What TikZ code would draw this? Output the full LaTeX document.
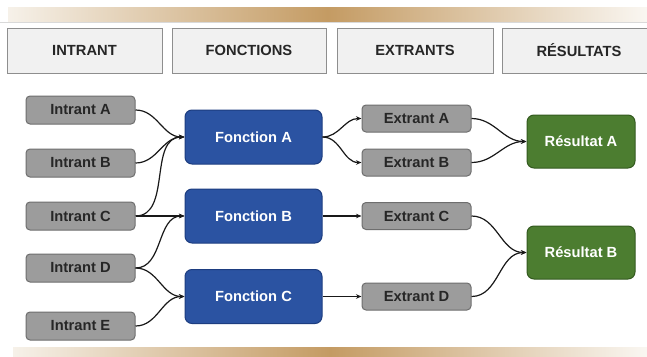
\documentclass[tikz,border=0pt]{standalone}
\usepackage{fontspec}
\setmainfont{Liberation Sans}
\usetikzlibrary{arrows.meta}
\definecolor{tan}{HTML}{C49B63}
\definecolor{tanlight}{HTML}{F6F1E9}
\definecolor{hdrfill}{HTML}{F1F1F1}
\definecolor{hdrdraw}{HTML}{8E8E8E}
\definecolor{grayfill}{HTML}{9C9C9C}
\definecolor{graydraw}{HTML}{6E6E6E}
\definecolor{bluefill}{HTML}{2B53A2}
\definecolor{bluedraw}{HTML}{1D3D80}
\definecolor{greenfill}{HTML}{4C7D30}
\definecolor{greendraw}{HTML}{335A1F}
\tikzset{
  lbl/.style={font=\fontsize{14.7}{16}\selectfont\bfseries},
  hdr/.style={lbl, draw=hdrdraw, fill=hdrfill, line width=1pt, minimum height=45pt, inner sep=0pt, text=black!85},
  graybox/.style={lbl, draw=graydraw, fill=grayfill, line width=1pt, rounded corners=4pt, minimum width=109pt, minimum height=28pt, inner sep=0pt, text=black!85},
  fbox/.style={lbl, draw=bluedraw, fill=bluefill, line width=1pt, rounded corners=7pt, minimum width=137pt, minimum height=54pt, inner sep=0pt, text=white},
  rbox/.style={lbl, draw=greendraw, fill=greenfill, line width=1pt, rounded corners=7pt, minimum width=108pt, minimum height=53pt, inner sep=0pt, text=white},
  conn/.style={line width=1.2pt, black!90, -{Stealth[length=5.5pt,width=4.5pt]}},
}
\begin{document}
\begin{tikzpicture}[x=1pt,y=-1pt]
\useasboundingbox (0,0) rectangle (647,356);
\fill[white] (0,0) rectangle (647,356);
% bands
\shade[left color=tanlight, right color=tanlight!60, middle color=tan] (8,7) rectangle (647,21);
\draw[black!15, line width=0.8pt] (0,22) -- (647,22);
\shade[left color=tanlight, right color=tanlight!60, middle color=tan] (13,347) rectangle (647,356);
% headers
\node[hdr, minimum width=155pt] (h1) at (84.5,50.5) {INTRANT};
\node[hdr, minimum width=154pt] (h2) at (249,50.5) {FONCTIONS};
\node[hdr, minimum width=156pt] (h3) at (415,50.5) {EXTRANTS};
\node[hdr, minimum width=150pt, anchor=west] (h4) at (502,50.5) {};
\node[lbl, text=black!85] (h4t) at (579,50.5) {RÉSULTATS};
% inputs
\node[graybox] (ia) at (80.5,110) {Intrant A};
\node[graybox] (ib) at (80.5,163) {Intrant B};
\node[graybox] (ic) at (80.5,216) {Intrant C};
\node[graybox] (id) at (80.5,268) {Intrant D};
\node[graybox] (ie) at (80.5,326) {Intrant E};
% functions
\node[fbox] (fa) at (253.5,137) {Fonction A};
\node[fbox] (fb) at (253.5,216) {Fonction B};
\node[fbox] (fc) at (253.5,296.5) {Fonction C};
% outputs
\node[graybox, minimum height=27pt] (ea) at (416.5,118.5) {Extrant A};
\node[graybox, minimum height=27pt] (eb) at (416.5,162.5) {Extrant B};
\node[graybox, minimum height=27pt] (ec) at (416.5,216) {Extrant C};
\node[graybox, minimum height=27pt] (ed) at (416.5,296.5) {Extrant D};
% results
\node[rbox] (ra) at (581,141.5) {Résultat A};
\node[rbox] (rb) at (581,252.5) {Résultat B};
% connectors
\draw[conn] (ia.east) to[out=0,in=180] (fa.west);
\draw[conn] (ib.east) to[out=0,in=180] (fa.west);
\draw[conn] (ic.east) to[out=0,in=180] (fa.west);
\draw[conn] (ic.east) -- (fb.west);
\draw[conn] (id.east) to[out=0,in=180] (fb.west);
\draw[conn] (id.east) to[out=0,in=180] (fc.west);
\draw[conn] (ie.east) to[out=0,in=180] (fc.west);
\draw[conn] (fa.east) to[out=0,in=180] (ea.west);
\draw[conn] (fa.east) to[out=0,in=180] (eb.west);
\draw[conn] (fb.east) -- (ec.west);
\draw[conn] (fc.east) -- (ed.west);
\draw[conn] (ea.east) to[out=0,in=180] (ra.west);
\draw[conn] (eb.east) to[out=0,in=180] (ra.west);
\draw[conn] (ec.east) to[out=0,in=180] (rb.west);
\draw[conn] (ed.east) to[out=0,in=180] (rb.west);
\end{tikzpicture}
\end{document}
